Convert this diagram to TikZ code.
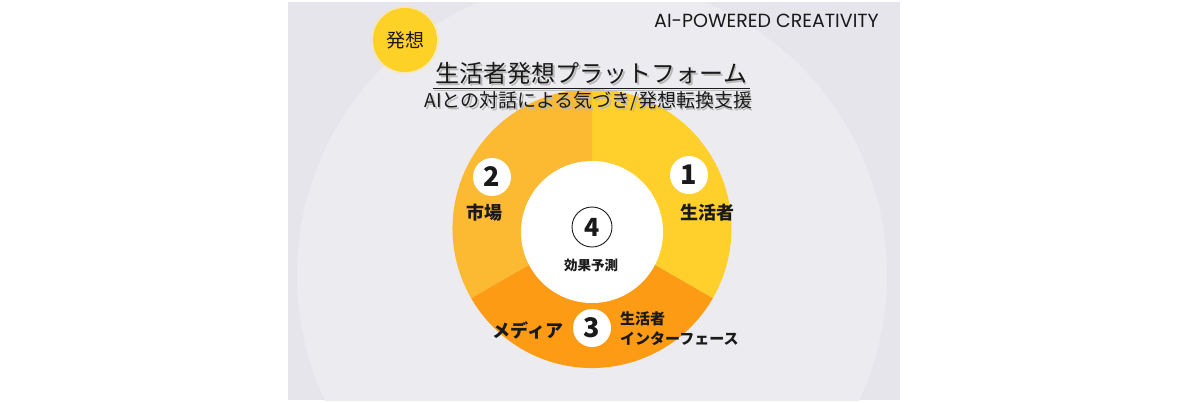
\documentclass[tikz,border=0pt]{standalone}
\usepackage{fontspec}
\newfontfamily\jp{Noto Sans CJK JP}
\newfontfamily\pop{Poppins}
\definecolor{panel}{HTML}{E5E5EB}
\definecolor{disc}{HTML}{ECECF0}
\definecolor{segA}{HTML}{FFD02B}
\definecolor{segB}{HTML}{FCBA32}
\definecolor{segC}{HTML}{FD9C14}
\definecolor{badge}{HTML}{FDD126}
\definecolor{ink}{HTML}{1A1A1A}
\tikzset{
  numdot/.style={circle, fill=white, minimum size=38pt, inner sep=0pt, font=\jp\bfseries\fontsize{27}{27}\selectfont, text=ink},
  seglabel/.style={font=\jp\bfseries\fontsize{18}{20}\selectfont, text=ink, inner sep=0pt},
}
\begin{document}
\begin{tikzpicture}[x=1pt,y=-1pt]
\useasboundingbox (0,0) rectangle (1200,402);
\fill[white] (0,0) rectangle (1200,402);
% panel
\begin{scope}
\clip (288,2) rectangle (900,400);
\fill[panel] (288,2) rectangle (900,400);
\fill[disc] (592,275) circle[radius=295];
\end{scope}
% badge
\fill[badge!50, opacity=0.5] (405,40) circle[radius=34];
\node[circle, fill=badge, minimum size=64pt, inner sep=0pt, font=\jp\fontsize{19}{19}\selectfont, text=ink] (badge) at (405,40) {発想};
% top-right label
\node[font=\pop\fontsize{19}{19}\selectfont, text=ink, anchor=east, inner sep=0pt] (tag) at (879,21) {AI-POWERED CREATIVITY};
% donut segments (y axis points down: angles mirrored)
\coordinate (c) at (592,228.5);
\fill[segA] (c) -- ++(-90:139.5) arc[start angle=-90, end angle=30, radius=139.5] -- cycle;
\fill[segB] (c) -- ++(150:139.5) arc[start angle=150, end angle=270, radius=139.5] -- cycle;
\fill[segC] (c) -- ++(30:139.5) arc[start angle=30, end angle=150, radius=139.5] -- cycle;
% title
\node[font=\jp\fontsize{24}{24}\selectfont, text=gray!55, inner sep=0pt] at (593,75) {生活者発想プラットフォーム};
\node[font=\jp\fontsize{24}{24}\selectfont, text=ink, inner sep=0pt] (title) at (591.5,73.5) {生活者発想プラットフォーム};
\draw[ink, line width=1pt] (433,88) -- (750,88);
\draw[gray!50, line width=0.8pt] (434,90) -- (751,90);
\node[font=\jp\fontsize{19}{19}\selectfont, text=gray!55, inner sep=0pt] at (590,103) {AIとの対話による気づき/発想転換支援};
\node[font=\jp\fontsize{19}{19}\selectfont, text=ink, inner sep=0pt] (subtitle) at (588.5,101.5) {AIとの対話による気づき/発想転換支援};
% inner disc
\node[circle, fill=white, minimum size=142pt, inner sep=0pt] (core) at (592,232) {};
\node[circle, draw=ink, line width=0.9pt, minimum size=40pt, inner sep=0pt, font=\jp\bfseries\fontsize{25}{25}\selectfont, text=ink] (n4) at (592,227) {4};
\node[font=\jp\bfseries\fontsize{13.5}{14}\selectfont, text=ink, inner sep=0pt] (l4) at (591,265) {効果予測};
% numbered dots
\node[numdot] (n1) at (689,175) {1};
\node[numdot] (n2) at (492,177) {2};
\node[numdot] (n3) at (592,328) {3};
% labels
\node[seglabel] (l1) at (707,213) {生活者};
\node[seglabel] (l2) at (484,213) {市場};
\node[seglabel] (l3) at (528,330) {メディア};
\node[font=\jp\bfseries\fontsize{15}{20}\selectfont, text=ink, inner sep=0pt, anchor=north west, align=left] (l3b) at (620,311) {生活者\\インターフェース};
\end{tikzpicture}
\end{document}
